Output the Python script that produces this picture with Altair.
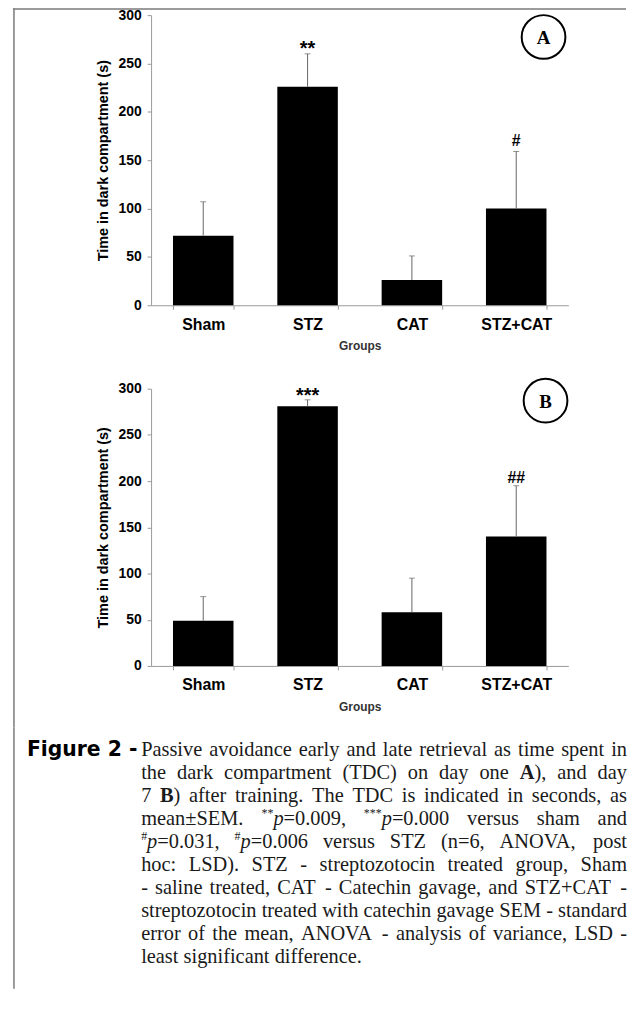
import re
import altair as alt
import pandas as pd

groups = ["Sham", "STZ", "CAT", "STZ+CAT"]
day1_mean = [72, 226, 26, 100]
day1_sem = [35, 34, 25, 59]
day1_star = ["", "**", "", ""]
day1_hash = ["", "", "", "#"]
day7_mean = [49, 281, 58, 140]
day7_sem = [26, 7, 37, 55]
day7_star = ["", "***", "", ""]
day7_hash = ["", "", "", "##"]
y_ticks = [0, 50, 100, 150, 200, 250, 300]
y_title = "Time in dark compartment (s)"
x_title = "Groups"
fig_label = "Figure 2 -"
# [b:..] bold, [i:..] italic, [sup:..] superscript
caption_lines = [
    "Passive avoidance early and late retrieval as time spent in",
    "the dark compartment (TDC) on day one [b:A]), and day",
    "7 [b:B]) after training. The TDC is indicated in seconds, as",
    "mean\u00b1SEM. [sup:**][i:p]=0.009, [sup:***][i:p]=0.000 versus sham and",
    "[sup:#][i:p]=0.031, [sup:#][i:p]=0.006 versus STZ (n=6, ANOVA, post",
    "hoc: LSD). STZ - streptozotocin treated group, Sham",
    "- saline treated, CAT - Catechin gavage, and STZ+CAT -",
    "streptozotocin treated with catechin gavage SEM - standard",
    "error of the mean, ANOVA - analysis of variance, LSD -",
    "least significant difference.",
]

SANS = "Liberation Sans"
SERIF = "Liberation Serif"
FRAME = "#7a7a7a"
FRAME_X = -138
CAP_SIZE = 20.5
SUP_SIZE = 12
CAP_LEFT = -10
CAP_WIDTH = 489
CAP_BASE = 21
CAP_LEAD = 23.1

# Times-compatible advance widths (per 1000 em) used to justify the caption
W = {' ': 250, '#': 500, '(': 333, ')': 333, '*': 500, '+': 564, ',': 250, '-': 333,
     '.': 250, ':': 278, '=': 564, '\u00b1': 564,
     'A': 722, 'B': 667, 'C': 667, 'D': 722, 'E': 611, 'F': 556, 'G': 722, 'H': 722,
     'I': 333, 'J': 389, 'K': 722, 'L': 611, 'M': 889, 'N': 722, 'O': 722, 'P': 556,
     'Q': 722, 'R': 667, 'S': 556, 'T': 611, 'U': 722, 'V': 722, 'W': 944, 'X': 722,
     'Y': 722, 'Z': 611,
     'a': 444, 'b': 500, 'c': 444, 'd': 500, 'e': 444, 'f': 333, 'g': 500, 'h': 500,
     'i': 278, 'j': 278, 'k': 500, 'l': 278, 'm': 778, 'n': 500, 'o': 500, 'p': 500,
     'q': 500, 'r': 333, 's': 389, 't': 278, 'u': 500, 'v': 500, 'w': 722, 'x': 500,
     'y': 500, 'z': 444}
for d in "0123456789":
    W[d] = 500


def text_w(s, size):
    return sum(W.get(ch, 500) for ch in s) / 1000.0 * size


def parse_word(word):
    segs = []
    pos = 0
    for m in re.finditer(r"\[(sup|i|b):([^\]]+)\]", word):
        if m.start() > pos:
            segs.append(("n", word[pos:m.start()]))
        segs.append((m.group(1), m.group(2)))
        pos = m.end()
    if pos < len(word):
        segs.append(("n", word[pos:]))
    return segs


rows = []
for li, line in enumerate(caption_lines):
    words = [parse_word(w) for w in line.split(" ")]
    widths = [sum(text_w(t, SUP_SIZE if st == "sup" else CAP_SIZE) for st, t in w)
              for w in words]
    last = li == len(caption_lines) - 1
    if last or len(words) < 2:
        gap = 0.25 * CAP_SIZE
    else:
        gap = (CAP_WIDTH - sum(widths)) / (len(words) - 1)
    xpos = CAP_LEFT
    for w, ww in zip(words, widths):
        sx = xpos
        for st, t in w:
            size = SUP_SIZE if st == "sup" else CAP_SIZE
            rows.append({"t": t, "style": st, "x": sx,
                         "y": CAP_BASE + li * CAP_LEAD - (8 if st == "sup" else 0)})
            sx += text_w(t, size)
        xpos += ww + gap
cap_df = pd.DataFrame(rows)


def frame(y1, y2, top=False):
    one = pd.DataFrame({"k": [0]})
    v = alt.Chart(one).mark_rect(color=FRAME).encode(
        x=alt.value(FRAME_X - 0.75), x2=alt.value(FRAME_X + 0.75),
        y=alt.value(y1), y2=alt.value(y2))
    if not top:
        return [v]
    h = alt.Chart(one).mark_rect(color=FRAME).encode(
        x=alt.value(FRAME_X - 0.75), x2=alt.value(478),
        y=alt.value(y1), y2=alt.value(y1 + 1.5))
    return [v, h]


def panel(mean, sem, star, hashes, letter, width, height, cx, cy, seg_top, seg_bottom,
          star_dy, hash_dy, top=False):
    df = pd.DataFrame({
        "group": groups,
        "mean": mean,
        "upper": [m + s for m, s in zip(mean, sem)],
        "star": star,
        "hash": hashes,
    })
    x = alt.X("group:N", sort=groups,
              scale=alt.Scale(paddingInner=0.42, paddingOuter=0.21),
              axis=alt.Axis(title=x_title, labelAngle=0, tickBand="extent",
                            labelFont=SANS, labelFontSize=16, labelFontWeight="bold",
                            labelColor="black", labelPadding=7,
                            titleFont=SANS, titleFontSize=12, titleFontWeight="bold",
                            titleColor="#333", titlePadding=9,
                            domainColor="#999", tickColor="#999", tickSize=4))
    y = alt.Y("mean:Q", scale=alt.Scale(domain=[0, 300], nice=False),
              axis=alt.Axis(title=y_title, values=y_ticks, grid=False,
                            labelFont=SANS, labelFontSize=14, labelFontWeight="bold",
                            labelColor="black", labelPadding=6,
                            titleFont=SANS, titleFontSize=14.5, titleFontWeight="bold",
                            titleColor="black", titlePadding=7,
                            domainColor="#999", tickColor="#999", tickSize=4))
    gx = alt.X("group:N", sort=groups)
    base = alt.Chart(df)
    bars = base.mark_bar(color="black").encode(x=x, y=y)
    err = base.mark_rule(color="#666", strokeWidth=1).encode(x=gx, y="mean:Q", y2="upper:Q")
    cap = base.mark_tick(color="#666", thickness=1, size=6, orient="horizontal").encode(
        x=gx, y="upper:Q")
    stars = base.mark_text(font=SANS, fontSize=20, fontWeight="bold", baseline="alphabetic",
                           dy=star_dy, color="black").encode(x=gx, y="upper:Q", text="star:N")
    hs = base.mark_text(font=SANS, fontSize=16, fontWeight="bold", baseline="alphabetic",
                        dy=hash_dy, color="black").encode(x=gx, y="upper:Q", text="hash:N")
    one = pd.DataFrame({"t": [letter]})
    circ = alt.Chart(one).mark_point(shape="circle", size=1936, filled=False, stroke="black",
                                     strokeWidth=2, opacity=1).encode(
        x=alt.value(cx), y=alt.value(cy))
    let = alt.Chart(one).mark_text(font=SERIF, fontSize=19, fontWeight="bold",
                                   baseline="middle", align="center", color="black").encode(
        x=alt.value(cx), y=alt.value(cy + 1), text="t:N")
    layers = [bars, err, cap, stars, hs, circ, let] + frame(seg_top, seg_bottom, top)
    return alt.layer(*layers).properties(width=width, height=height)


chart_a = panel(day1_mean, day1_sem, day1_star, day1_hash, "A", 420, 292, 395, 22,
                -7, 349, 1, -6, top=True)
chart_b = panel(day7_mean, day7_sem, day7_star, day7_hash, "B", 420, 279, 397, 12,
                -27, 341, 2, -2.5)

one = pd.DataFrame({"k": [0]})
fig_txt = alt.Chart(one).mark_text(text=fig_label, font="DejaVu Sans", fontSize=20.5,
                                   fontWeight="bold", align="left", baseline="alphabetic",
                                   color="black").encode(x=alt.value(-125), y=alt.value(21))

cap_base = alt.Chart(cap_df)
cx_enc = alt.X("x:Q", scale=None)
cy_enc = alt.Y("y:Q", scale=None)
cap_layers = []
for st, kw in [("n", {}), ("i", {"fontStyle": "italic"}), ("b", {"fontWeight": "bold"}),
               ("sup", {"fontSize": SUP_SIZE})]:
    props = dict(font=SERIF, fontSize=CAP_SIZE, align="left", baseline="alphabetic",
                 color="#1a1a1a")
    props.update(kw)
    cap_layers.append(
        cap_base.transform_filter(alt.datum.style == st).mark_text(**props).encode(
            x=cx_enc, y=cy_enc, text="t:N"))

caption = alt.layer(fig_txt, *cap_layers, *frame(-8, 255)).properties(width=420, height=250)

chart = alt.vconcat(chart_a, chart_b, caption, spacing=0).properties(
    padding={"left": 5, "top": -3, "right": 0, "bottom": 0}
).configure_view(stroke=None)

chart.save("out.html", embed_options={"renderer": "svg", "actions": False})
